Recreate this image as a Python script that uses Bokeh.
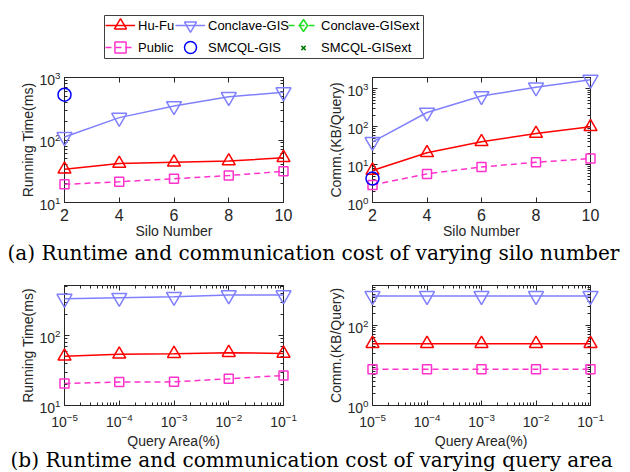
from math import nan

from bokeh.embed import file_html
from bokeh.layouts import column, row
from bokeh.models import (BoxAnnotation, CustomJSTickFormatter, FixedTicker,
                          Label, Legend, LegendItem, LinearAxis, LogAxis,
                          Range1d)
from bokeh.plotting import figure
from bokeh.resources import INLINE

# ---------------------------------------------------------------- data
silo_numbers = [2, 4, 6, 8, 10]
query_areas = [1e-5, 1e-4, 1e-3, 1e-2, 1e-1]

# running time (ms) against silo number
hufu_time_silo = [34, 42, 44, 46, 52]
public_time_silo = [19.5, 21.5, 24, 27, 31.5]
conclave_time_silo = [112, 228, 350, 490, 582]
smcql_time_silo = [530, nan, nan, nan, nan]
conclave_ext_time_silo = [nan, nan, nan, nan, nan]
smcql_ext_time_silo = [nan, nan, nan, nan, nan]

# communication (KB/query) against silo number
hufu_comm_silo = [7, 20.5, 40, 66, 100]
public_comm_silo = [2.9, 5.7, 8.7, 11.5, 14.5]
conclave_comm_silo = [40, 238, 650, 1100, 1750]
smcql_comm_silo = [4.3, nan, nan, nan, nan]

# running time (ms) against query area
hufu_time_area = [50.5, 54, 55, 57, 55.5]
public_time_area = [20.7, 21.6, 21.8, 24.1, 26.9]
conclave_time_area = [337, 347, 358, 379, 379]

# communication (KB/query) against query area
hufu_comm_area = [35, 35, 35, 35, 35]
public_comm_area = [8.1, 8.1, 8.1, 8.1, 8.1]
conclave_comm_area = [550, 550, 550, 550, 550]

# ---------------------------------------------------------------- styles
STYLE = {
    "Hu-Fu": dict(color="#FF0000", marker="triangle", size=13, dash="solid", line=True),
    "Public": dict(color="#FF33CC", marker="square", size=9, dash="6 4", line=True),
    "Conclave-GIS": dict(color="#8080FF", marker="inverted_triangle", size=15, dash="solid", line=True),
    "SMCQL-GIS": dict(color="#0000FF", marker="circle", size=13, dash="solid", line=False),
    "Conclave-GISext": dict(color="#22DD22", marker="diamond", size=11, dash="6 4", line=True),
    "SMCQL-GISext": dict(color="#007A00", marker="x", size=8, dash="solid", line=False),
}
AX = "#262626"
SANS = "Liberation Sans"
W = 630


def draw_series(p, xs, ys, name):
    # drawn on the overlay level so markers at the box edges are not cut
    st = STYLE[name]
    rs = []
    if st["line"]:
        rs.append(p.line(xs, ys, line_color=st["color"], line_width=1.5,
                         line_dash=st["dash"], level="overlay"))
    rs.append(p.scatter(xs, ys, marker=st["marker"], size=st["size"],
                        line_color=st["color"], fill_color=None, line_width=1.5,
                        level="overlay"))
    return rs


def style_axis(ax, ticker, font_size, standoff):
    ax.ticker = ticker
    ax.axis_line_color = AX
    ax.major_tick_line_color = AX
    ax.minor_tick_line_color = AX
    ax.major_tick_in = 5
    ax.major_tick_out = 0
    ax.minor_tick_in = 3
    ax.minor_tick_out = 0
    ax.major_label_text_font = SANS
    ax.major_label_text_font_size = font_size
    ax.major_label_text_color = AX
    ax.major_label_standoff = standoff
    ax.axis_label_text_font = SANS
    ax.axis_label_text_font_size = "14px"
    ax.axis_label_text_font_style = "normal"
    ax.axis_label_text_color = AX


def log_minor(lo_exp, hi_exp):
    return [m * 10.0 ** e for e in range(lo_exp, hi_exp) for m in range(2, 10)]


def make_panel(xs, series, x_log, x_rng, y_rng, x_ticker, y_ticker,
               xlabel, ylabel, borders, height, xtick_size, xtick_standoff,
               xlabel_standoff):
    left, right, top, bottom = borders
    p = figure(width=315, height=height,
               x_axis_type="log" if x_log else "linear", y_axis_type="log",
               x_range=Range1d(*x_rng), y_range=Range1d(*y_rng),
               output_backend="svg", toolbar_location=None,
               min_border_left=left, min_border_right=right,
               min_border_top=top, min_border_bottom=bottom)
    p.grid.visible = False
    p.outline_line_color = AX
    p.outline_line_width = 1

    style_axis(p.xaxis[0], x_ticker, xtick_size, xtick_standoff)
    p.xaxis[0].axis_label = xlabel
    p.xaxis[0].axis_label_standoff = xlabel_standoff
    if not x_log:
        p.xaxis[0].minor_tick_line_color = None
    style_axis(p.yaxis[0], y_ticker, "14px", 4)
    p.yaxis[0].axis_label = ylabel
    p.yaxis[0].axis_label_standoff = 0

    # mirrored tick marks on the top and right edges of the box
    blank = CustomJSTickFormatter(code="return ''")
    top_ax = (LogAxis if x_log else LinearAxis)(formatter=blank)
    style_axis(top_ax, x_ticker, "0px", 0)
    if not x_log:
        top_ax.minor_tick_line_color = None
    p.add_layout(top_ax, "above")
    right_ax = LogAxis(formatter=blank)
    style_axis(right_ax, y_ticker, "0px", 0)
    p.add_layout(right_ax, "right")

    for name, ys in series:
        draw_series(p, xs, ys, name)
    return p


silo_ticker = FixedTicker(ticks=silo_numbers, minor_ticks=[])
area_ticker = FixedTicker(ticks=query_areas, minor_ticks=log_minor(-5, -1))

p_time_silo = make_panel(
    silo_numbers,
    [("Public", public_time_silo), ("Hu-Fu", hufu_time_silo),
     ("Conclave-GIS", conclave_time_silo), ("SMCQL-GIS", smcql_time_silo)],
    False, (2, 10), (10, 1000), silo_ticker,
    FixedTicker(ticks=[10, 100, 1000], minor_ticks=log_minor(1, 3)),
    "Silo Number", "Running Time(ms)", (64, 32, 7, 39), 171, "16px", 6, -1)

p_comm_silo = make_panel(
    silo_numbers,
    [("Public", public_comm_silo), ("Hu-Fu", hufu_comm_silo),
     ("Conclave-GIS", conclave_comm_silo), ("SMCQL-GIS", smcql_comm_silo)],
    False, (2, 10), (1, 2000), silo_ticker,
    FixedTicker(ticks=[1, 10, 100, 1000], minor_ticks=log_minor(0, 4)),
    "Silo Number", "Comm.(KB/Query)", (57, 40, 7, 39), 171, "16px", 6, -1)

p_time_area = make_panel(
    query_areas,
    [("Public", public_time_area), ("Hu-Fu", hufu_time_area),
     ("Conclave-GIS", conclave_time_area)],
    True, (1e-5, 1e-1), (10, 520), area_ticker,
    FixedTicker(ticks=[10, 100], minor_ticks=log_minor(1, 3)),
    "Query Area(%)", "Running Time(ms)", (64, 32, 13, 44), 179, "14px", 7, 3)

p_comm_area = make_panel(
    query_areas,
    [("Public", public_comm_area), ("Hu-Fu", hufu_comm_area),
     ("Conclave-GIS", conclave_comm_area)],
    True, (1e-5, 1e-1), (1, 1000), area_ticker,
    FixedTicker(ticks=[1, 100], minor_ticks=log_minor(0, 3) + [10]),
    "Query Area(%)", "Comm.(KB/Query)", (57, 40, 13, 44), 179, "14px", 7, 3)

# ---------------------------------------------------------------- legend
# Full-width strip; the series sit far outside its unit ranges, so only the
# legend entries show.  Geometry below is in pixels from the strip's top-left.
LEG_H = 70
BOX_L, BOX_R, BOX_T, BOX_B = 104, 423, 15, 58

leg = figure(width=W, height=LEG_H, x_range=Range1d(0, 1), y_range=Range1d(0, 1),
             x_axis_location=None, y_axis_location=None,
             output_backend="svg", toolbar_location=None, min_border=0)
leg.grid.visible = False
leg.outline_line_color = None
leg.add_layout(BoxAnnotation(left=BOX_L / W, right=BOX_R / W,
                             bottom=1 - BOX_B / LEG_H, top=1 - BOX_T / LEG_H,
                             fill_alpha=0, line_color="#404040", line_width=1,
                             line_alpha=1))

legend_series = [
    ("Hu-Fu", hufu_time_silo), ("Public", public_time_silo),
    ("Conclave-GIS", conclave_time_silo), ("SMCQL-GIS", smcql_time_silo),
    ("Conclave-GISext", conclave_ext_time_silo), ("SMCQL-GISext", smcql_ext_time_silo),
]
handles = {name: draw_series(leg, silo_numbers, ys, name) for name, ys in legend_series}

# one entry per cell of a 3 x 2 grid: (name, column, row, key height)
KEY_W = 30
COL_X = [105, 175, 288]          # left edge of each key column
ROW_Y = [25, 47]                 # centre line of each row
cells = [("Hu-Fu", 0, 0, 34), ("Public", 0, 1, 28),
         ("Conclave-GIS", 1, 0, 34), ("SMCQL-GIS", 1, 1, 34),
         ("Conclave-GISext", 2, 0, 30), ("SMCQL-GISext", 2, 1, 15)]
for name, c, r, gh in cells:
    item_h = max(gh, 18)
    lg = Legend(items=[LegendItem(label=name, renderers=handles[name])],
                location=(COL_X[c], LEG_H - ROW_Y[r] - item_h / 2),
                glyph_width=KEY_W, glyph_height=gh, label_height=18,
                padding=0, margin=0, spacing=0, label_standoff=3,
                border_line_color=None, background_fill_alpha=0,
                label_text_font=SANS, label_text_font_size="13px",
                label_text_color="black")
    leg.add_layout(lg)


# ---------------------------------------------------------------- captions
def caption(text, height, left, y_from_top):
    c = figure(width=W, height=height, x_range=Range1d(0, W),
               y_range=Range1d(0, height), x_axis_location=None,
               y_axis_location=None, output_backend="svg",
               toolbar_location=None, min_border=0)
    c.grid.visible = False
    c.outline_line_color = None
    c.add_layout(Label(x=left, y=height - y_from_top, text=text,
                       text_align="left", text_baseline="alphabetic",
                       text_font="DejaVu Serif", text_font_size="20.1px",
                       text_color="black"))
    return c


cap_a = caption("(a) Runtime and communication cost of varying silo number", 31, 7, 11)
cap_b = caption("(b) Runtime and communication cost of varying query area", 21, 10, 8.5)

layout = column(leg, row(p_time_silo, p_comm_silo), cap_a,
                row(p_time_area, p_comm_area), cap_b)

with open("out.html", "w") as f:
    f.write(file_html(layout, INLINE))
